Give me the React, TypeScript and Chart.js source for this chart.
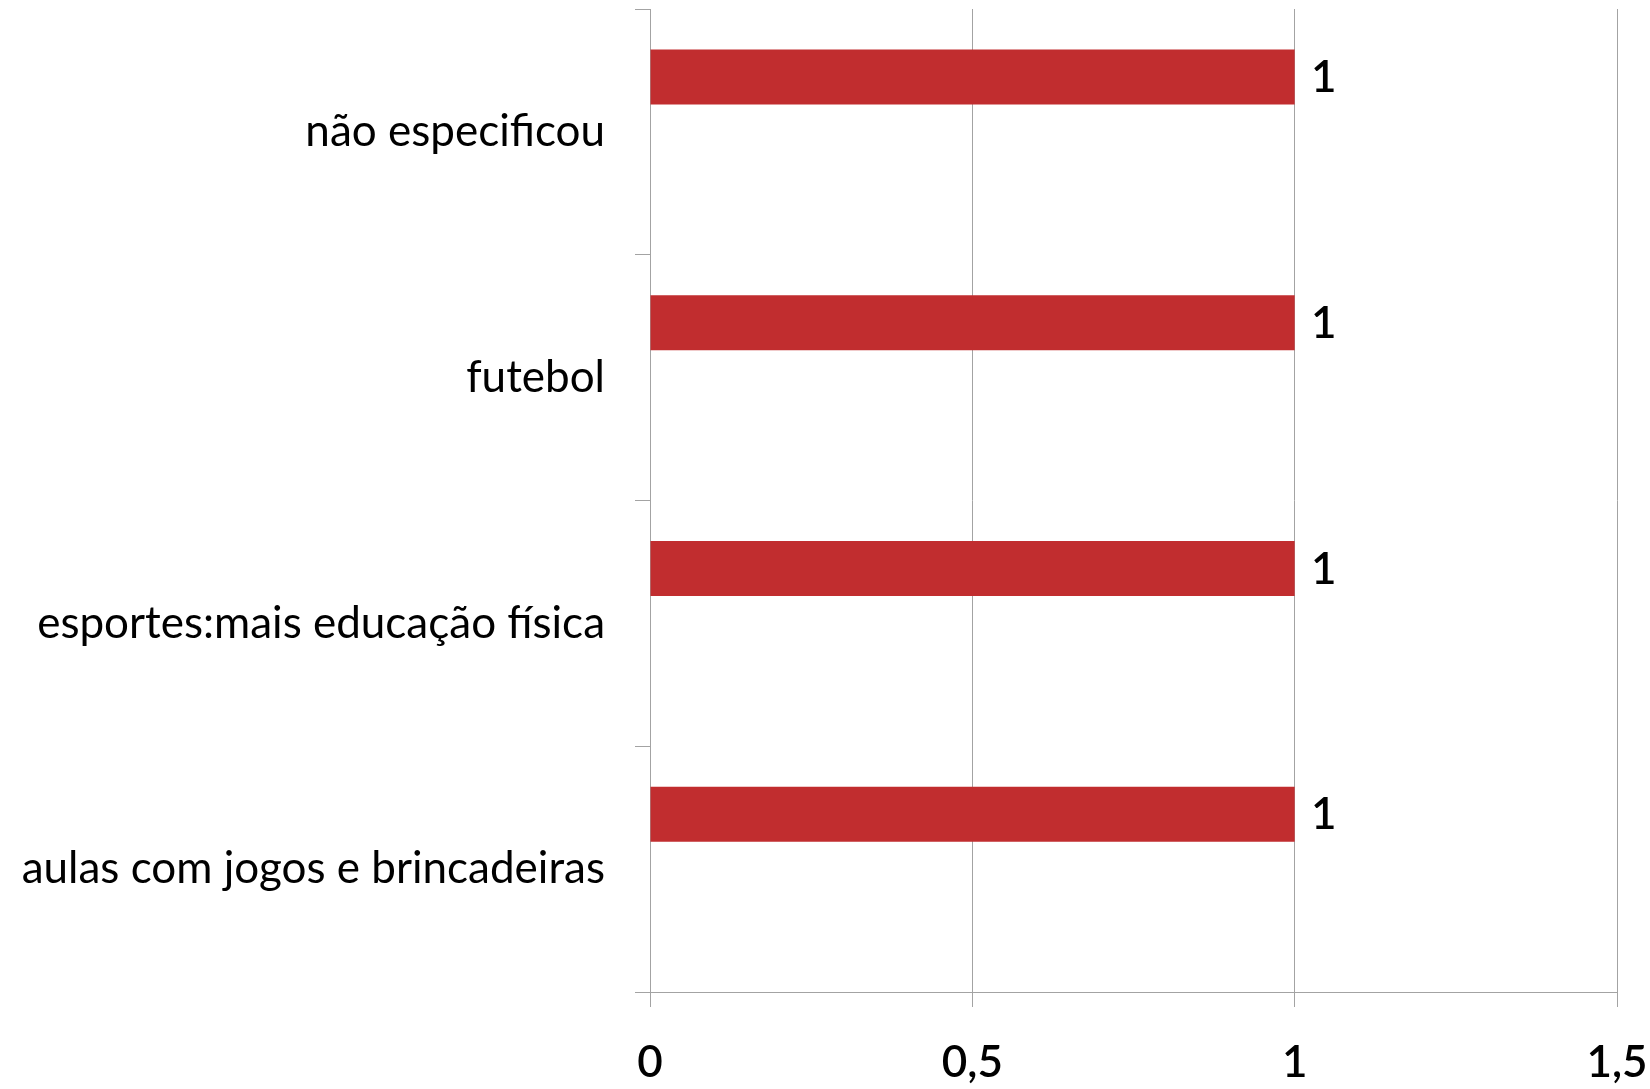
import React, { useEffect, useRef } from "react";
import { Chart, registerables } from "chart.js";

Chart.register(...registerables);

const categories = [
  "não especificou",
  "futebol",
  "esportes:mais educação física",
  "aulas com jogos e brincadeiras",
];
const seriesValues = [1, 1, 1, 1];
const emptySeries = [null, null, null, null];
const xTickValues = [0, 0.5, 1, 1.5];
const xTickLabels = ["0", "0,5", "1", "1,5"];

const BAR_COLOR = "#C12D2F";
const GRID_COLOR = "#A3A3A3";
const FONT = "Lato, 'Open Sans', sans-serif";

const valueLabelPlugin = {
  id: "valueLabels",
  afterDatasetsDraw(chart: any) {
    const ctx = chart.ctx;
    const meta = chart.getDatasetMeta(0);
    const data = chart.data.datasets[0].data;
    ctx.save();
    ctx.font = `600 44px ${FONT}`;
    ctx.fillStyle = "#000";
    ctx.textAlign = "center";
    ctx.textBaseline = "middle";
    meta.data.forEach((el: any, i: number) => {
      const v = data[i];
      if (v == null) return;
      ctx.fillText(String(v).replace(".", ","), el.x + 29, el.y + 1);
    });
    ctx.restore();
  },
};

const zeroPad = (scale: any) => {
  scale.paddingLeft = 0;
  scale.paddingRight = 0;
  scale.paddingTop = 0;
  scale.paddingBottom = 0;
};

export default function App() {
  const ref = useRef<HTMLCanvasElement | null>(null);
  useEffect(() => {
    if (!ref.current) return;
    const chart = new Chart(ref.current, {
      type: "bar",
      data: {
        labels: categories,
        datasets: [
          {
            data: seriesValues,
            backgroundColor: BAR_COLOR,
            borderWidth: 0,
            categoryPercentage: 0.893,
            barPercentage: 0.5,
          },
          {
            data: emptySeries as any,
            backgroundColor: "transparent",
            borderWidth: 0,
            categoryPercentage: 0.893,
            barPercentage: 0.5,
          },
        ],
      },
      options: {
        indexAxis: "y",
        responsive: false,
        animation: false,
        layout: { padding: { top: 9, right: 33, left: 0, bottom: 0 } },
        plugins: {
          legend: { display: false },
          tooltip: { enabled: false },
        },
        scales: {
          x: {
            min: 0,
            max: 1.5,
            afterBuildTicks: (scale: any) => {
              scale.ticks = xTickValues.map((v) => ({ value: v }));
            },
            afterFit: (scale: any) => {
              scale.height = 97;
              zeroPad(scale);
            },
            grid: {
              color: GRID_COLOR,
              lineWidth: 1,
              drawOnChartArea: true,
              drawTicks: true,
              tickLength: 15,
              tickColor: GRID_COLOR,
            },
            border: { display: true, color: GRID_COLOR, width: 1 },
            ticks: {
              color: "#000",
              font: { family: FONT, size: 44, weight: "600" },
              padding: 29,
              maxRotation: 0,
              autoSkip: false,
              callback: (value: any) => {
                const idx = xTickValues.indexOf(Number(value));
                return idx >= 0 ? xTickLabels[idx] : "";
              },
            },
          },
          y: {
            afterFit: (scale: any) => {
              scale.width = 650;
              zeroPad(scale);
            },
            grid: {
              offset: true,
              drawOnChartArea: false,
              drawTicks: true,
              tickLength: 15,
              color: GRID_COLOR,
              tickColor: GRID_COLOR,
              lineWidth: 1,
            },
            border: { display: true, color: GRID_COLOR, width: 1 },
            ticks: {
              color: "#000",
              font: { family: FONT, size: 44 },
              padding: 30,
              autoSkip: false,
            },
          },
        },
      },
      plugins: [valueLabelPlugin],
    });
    return () => chart.destroy();
  }, []);

  return (
    <div
      style={{
        position: "fixed",
        left: 0,
        top: 0,
        width: 1650,
        height: 1089,
        background: "#fff",
      }}
    >
      <canvas ref={ref} width={1650} height={1089} style={{ width: 1650, height: 1089 }} />
    </div>
  );
}
